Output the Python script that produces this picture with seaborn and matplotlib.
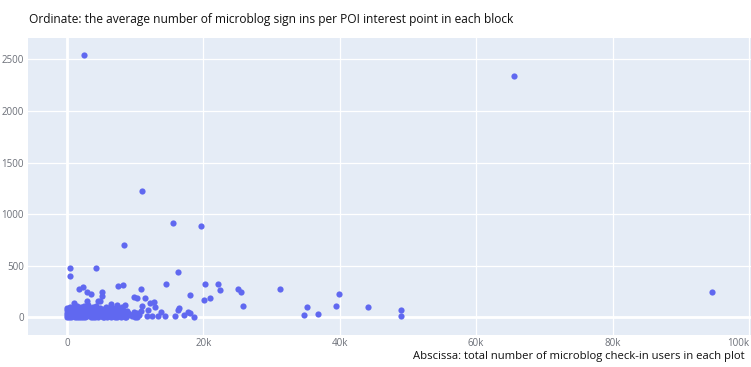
import matplotlib
matplotlib.use("Agg")
import matplotlib.pyplot as plt
import seaborn as sns
import pandas as pd

# Check-in users per block (x) vs average microblog sign-ins per POI (y)
users = [
    # dense group of small blocks
    0, 100, 200, 300, 150, 350, 400, 500, 600, 700, 800, 900, 1000, 1100, 1200,
    1300, 1400, 1500, 1600, 1700, 1800, 1900, 2000, 2100, 2200, 2300, 2400, 2500,
    2600, 2700, 2800, 2900, 3000, 3100, 3200, 3300, 3400, 3500, 3600, 3700, 3800,
    3900, 4000, 4100, 4200, 4300, 4400, 4500, 4600, 4700, 4800, 4900, 5000, 5100,
    5200, 5300, 5400, 5500, 5600, 5700, 5800, 5900, 6000, 6100, 6200, 6300, 6400,
    6500, 6600, 6700, 6800, 6900, 7000, 7100, 7200, 7300, 7400, 7500, 7600, 7700,
    7800, 7900, 8000, 8100, 8200, 8300, 8400, 8500, 8600, 8700, 8800, 8900, 9000,
    250, 650, 1050, 1450, 1850, 2250, 2650, 3050, 3450, 3850, 4250, 4650, 5050,
    5450, 5850, 6250, 6650, 7050, 7450, 7850, 8250, 8650, 50, 450, 1250, 2050,
    2850, 3650, 4450, 5250, 6050, 6850, 7650, 8450, 0, 0, 50, 1000, 6500, 7300,
    9500, 9700, 9900, 10000, 10200, 10300, 10500, 9800,
    # scattered blocks
    500, 400, 4300, 1700, 2400, 3000, 3500, 5100, 5100, 3000, 4600, 4900, 7500,
    8200, 8400, 9800, 10300, 11400, 11000, 15500, 19600, 2500, 65500, 94600,
    16300, 14500, 10900, 20200, 22200, 22500, 20100, 21000, 25100, 25500, 25800,
    31300, 18000, 12700, 12100, 11000, 12900, 11900, 10800, 16300, 16400, 18000,
    11700, 12500, 13300, 13800, 14300, 15900, 17100, 17800, 18600, 34800, 35200,
    36800, 39400, 39900, 44100, 49000, 49000,
]
signins = [
    0, 10, 30, 5, 55, 80, 20, 45, 0, 70, 25, 95, 10, 50, 0,
    85, 35, 110, 15, 60, 0, 40, 100, 20, 75, 5, 50, 115,
    30, 0, 80, 45, 10, 120, 60, 25, 90, 0, 50, 15, 100,
    35, 70, 5, 45, 110, 20, 80, 0, 55, 30, 95, 10, 65,
    40, 0, 85, 20, 50, 105, 5, 35, 70, 15, 90, 45, 0,
    60, 25, 80, 10, 50, 0, 95, 30, 65, 5, 45, 85, 15,
    55, 0, 100, 35, 70, 10, 50, 120, 25, 0, 60, 20, 40,
    15, 35, 25, 5, 65, 40, 55, 35, 45, 0, 60, 30, 45,
    5, 60, 20, 40, 30, 55, 30, 40, 45, 70, 100, 60, 5,
    20, 75, 55, 25, 40, 75, 40, 5, 40, 90, 20, 140, 130, 120,
    10, 35, 0, 25, 45, 5, 20, 55,
    480, 405, 480, 276, 298, 244, 228, 250, 211, 163, 163, 163, 305,
    312, 703, 196, 192, 192, 1226, 911, 891, 2545, 2340, 247,
    438, 322, 276, 322, 322, 270, 172, 192, 273, 244, 111,
    276, 218, 153, 140, 114, 99, 73, 63, 76, 90, 44,
    15, 15, 15, 50, 15, 10, 21, 50, 8, 21, 99,
    31, 111, 228, 105, 76, 17,
]

x_ticks = [0, 20000, 40000, 60000, 80000, 100000]
x_tick_labels = ["0", "20k", "40k", "60k", "80k", "100k"]
y_ticks = [0, 500, 1000, 1500, 2000, 2500]
y_tick_labels = ["0", "500", "1000", "1500", "2000", "2500"]

y_title = "Ordinate: the average number of microblog sign ins per POI interest point in each block"
x_title = "Abscissa: total number of microblog check-in users in each plot"

df = pd.DataFrame({"users": users, "signins": signins})

W, H = 751, 367
fig = plt.figure(figsize=(W / 100, H / 100), dpi=100)
fig.patch.set_facecolor("white")

left, right, top, bottom = 28, 751, 38, 335
ax = fig.add_axes([left / W, 1 - bottom / H, (right - left) / W, (bottom - top) / H])
ax.set_facecolor("#e5ecf6")

sns.scatterplot(data=df, x="users", y="signins", ax=ax, color="#6068f0",
                s=20, linewidth=0, zorder=3, legend=False)

ax.set_xlim(-5720, 100300)
ax.set_ylim(-170, 2708)
ax.set_xticks(x_ticks)
ax.set_xticklabels(x_tick_labels)
ax.set_yticks(y_ticks)
ax.set_yticklabels(y_tick_labels)
ax.set_xlabel("")
ax.set_ylabel("")

ax.grid(True, color="white", linewidth=0.9, zorder=0)
ax.set_axisbelow(True)
ax.axhline(0, color="white", linewidth=2, zorder=1)
ax.axvline(0, color="white", linewidth=2, zorder=1)
for s in ax.spines.values():
    s.set_visible(False)
ax.tick_params(length=0, colors="#6b6f78", labelsize=7, pad=3)
for lab in ax.get_xticklabels() + ax.get_yticklabels():
    lab.set_fontfamily("Open Sans")
ax.tick_params(axis="x", pad=2)
# last x label sits at the figure edge; keep it inside
ax.get_xticklabels()[-1].set_horizontalalignment("right")

# annotation texts, sized to span their widths
t1 = fig.text(29 / W, 1 - 20 / H, y_title, ha="left", va="center",
              fontsize=9, color="#111111", family="Open Sans")
t2 = fig.text(413 / W, 1 - 357 / H, x_title, ha="left", va="center",
              fontsize=9, color="#111111", family="Open Sans")
fig.canvas.draw()
r = fig.canvas.get_renderer()
for t, target in ((t1, 494), (t2, 334)):
    w = t.get_window_extent(r).width
    t.set_fontsize(t.get_fontsize() * target / w)

fig.savefig("out.png", dpi=100, facecolor="white")
